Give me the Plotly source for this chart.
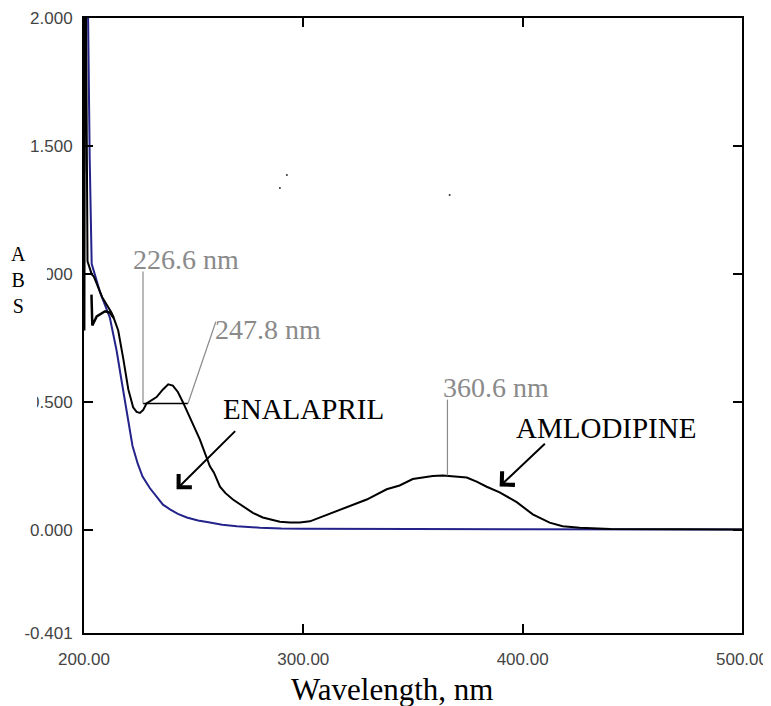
import plotly.graph_objects as go

# ---- data ----
blue_x = [200.1, 200.4, 201.8, 202.2, 202.6, 203.5, 207.3, 211.8, 214.9, 217.2, 219.5, 220.9,
          222.1, 224.5, 226.7, 230.0, 233.1, 236.0, 239.2, 242.8, 246.9, 252.0, 257.4, 263.0,
          269.7, 275.0, 280.2, 290.0, 300.0, 350.0, 400.0, 450.0, 500.0]
blue_y = [1.4, 2.05, 2.05, 1.73, 1.45, 1.04, 0.93, 0.83, 0.70, 0.58, 0.47, 0.40,
          0.33, 0.26, 0.21, 0.165, 0.13, 0.10, 0.082, 0.064, 0.05, 0.038, 0.03, 0.022,
          0.016, 0.012, 0.01, 0.007, 0.006, 0.005, 0.004, 0.003, 0.003]

black_x = [200.2, 200.4, 200.9, 201.6, 203.5, 204.5, 208.3, 212.5, 213.5, 215.6, 217.9, 220.2,
           222.4, 224.0, 225.5, 227.0, 228.5, 233.1, 236.0, 238.4, 240.5, 242.8, 245.1, 248.3,
           250.6, 252.8, 257.4, 259.2, 262.0, 264.5, 267.9, 274.3, 277.0, 281.5, 284.7, 289.3,
           294.0, 298.4, 303.0, 307.5, 313.0, 319.8, 328.9, 338.0, 343.9, 349.9, 353.1, 359.0,
           363.6, 369.9, 374.5, 379.0, 383.6, 389.5, 397.3, 404.6, 412.3, 418.2, 426.0, 440.0,
           470.0, 500.0]
black_y = [0.78, 2.05, 2.05, 1.05, 1.0, 0.99, 0.91, 0.85, 0.83, 0.78, 0.67, 0.55,
           0.48, 0.462, 0.458, 0.47, 0.495, 0.52, 0.55, 0.57, 0.565, 0.54, 0.50, 0.44,
           0.39, 0.355, 0.25, 0.226, 0.17, 0.145, 0.12, 0.082, 0.068, 0.05, 0.043, 0.033,
           0.03, 0.03, 0.035, 0.05, 0.068, 0.09, 0.12, 0.16, 0.175, 0.20, 0.205, 0.212,
           0.214, 0.21, 0.206, 0.19, 0.17, 0.148, 0.11, 0.062, 0.03, 0.016, 0.01, 0.005,
           0.003, 0.003]

hump_x = [203.4, 203.8, 205.8, 209.6, 211.8, 213.5]
hump_y = [0.92, 0.80, 0.835, 0.855, 0.85, 0.83]

stray_x = [292.5, 289.3, 366.7]
stray_y = [1.387, 1.336, 1.309]

x_ticks = [200, 300, 400, 500]
x_tick_text = ["200.00", "300.00", "400.00", "500.00"]
y_ticks = [-0.401, 0.0, 0.5, 1.0, 1.5, 2.0]
y_tick_text = ["-0.401", "0.000", "0.500", "1.000", "1.500", "2.000"]

peak_labels = ["226.6 nm", "247.8 nm", "360.6 nm"]
peak_point_x = [226.9, 247.4, 365.7]
peak_point_y = [0.495, 0.495, 0.214]
peak_line_end_x = [226.9, 260.1, 365.7]
peak_line_end_y = [1.01, 0.814, 0.51]
peak_text_x = [246.5, 283.8, 387.7]
peak_text_y = [1.056, 0.783, 0.557]

names = ["ENALAPRIL", "AMLODIPINE"]
name_text_x = [300.2, 437.8]
name_text_y = [0.475, 0.401]
arrow_tail_x = [269.6, 410.8]
arrow_tail_y = [0.393, 0.343]
arrow_tip_x = [242.2, 389.5]
arrow_tip_y = [0.16, 0.171]

x_title = "Wavelength, nm"
y_title = "A<br>B<br>S"

BLUE = "#23238a"
GRAY = "#8a8a8a"
SERIF = "Liberation Serif, Times New Roman, serif"
SANS = "Liberation Sans, Arial, sans-serif"

# page offset (body margin) and plot area in page pixels
OFF = 8
FW, FH = 771 - OFF, 706 - OFF
L, R, T, B = 84, 742, 18, 633
W, H = R - L, B - T

def px2paper_x(px):
    return (px - L) / W
def px2paper_y(py):
    return (B - py) / H

fig = go.Figure()
fig.add_trace(go.Scatter(x=blue_x, y=blue_y, mode="lines",
                         line=dict(color=BLUE, width=2), showlegend=False))
fig.add_trace(go.Scatter(x=black_x, y=black_y, mode="lines",
                         line=dict(color="black", width=2), showlegend=False))
fig.add_trace(go.Scatter(x=hump_x, y=hump_y, mode="lines",
                         line=dict(color="black", width=2.5), showlegend=False))
fig.add_trace(go.Scatter(x=stray_x, y=stray_y, mode="markers",
                         marker=dict(color="#333", size=2), showlegend=False))

shapes = []
shapes.append(dict(type="line", xref="x", yref="y",
                   x0=peak_point_x[0], y0=peak_point_y[0],
                   x1=peak_point_x[1], y1=peak_point_y[1],
                   line=dict(color="black", width=1.5)))
for i in range(3):
    shapes.append(dict(type="line", xref="x", yref="y",
                       x0=peak_point_x[i], y0=peak_point_y[i],
                       x1=peak_line_end_x[i], y1=peak_line_end_y[i],
                       line=dict(color=GRAY, width=1.2)))

# white patches that partly hide two tick labels (as in the reference)
shapes.append(dict(type="rect", xref="paper", yref="paper", layer="above",
                   x0=px2paper_x(OFF), x1=px2paper_x(47), y0=px2paper_y(300), y1=px2paper_y(240),
                   fillcolor="white", line=dict(width=0)))
shapes.append(dict(type="rect", xref="paper", yref="paper", layer="above",
                   x0=px2paper_x(OFF), x1=px2paper_x(37), y0=px2paper_y(415), y1=px2paper_y(390),
                   fillcolor="white", line=dict(width=0)))

annotations = []
for i in range(3):
    annotations.append(dict(x=peak_text_x[i], y=peak_text_y[i], xref="x", yref="y",
                            xanchor="center", yanchor="middle",
                            text=peak_labels[i], showarrow=False,
                            font=dict(family=SERIF, size=28, color=GRAY)))
for i in range(2):
    annotations.append(dict(x=name_text_x[i], y=name_text_y[i], xref="x", yref="y",
                            xanchor="center", yanchor="middle",
                            text=names[i], showarrow=False,
                            font=dict(family=SERIF, size=29, color="black")))
    annotations.append(dict(x=arrow_tip_x[i], y=arrow_tip_y[i], xref="x", yref="y",
                            ax=arrow_tail_x[i], ay=arrow_tail_y[i], axref="x", ayref="y",
                            text="", showarrow=True, arrowhead=4, arrowsize=1.8,
                            arrowwidth=2, arrowcolor="black"))
annotations.append(dict(x=px2paper_x(18), y=px2paper_y(280), xref="paper", yref="paper",
                        xanchor="center", yanchor="middle",
                        text=y_title, showarrow=False, align="center",
                        font=dict(family=SERIF, size=20, color="black")))
annotations.append(dict(x=px2paper_x(392), y=px2paper_y(689), xref="paper", yref="paper",
                        xanchor="center", yanchor="middle",
                        text=x_title, showarrow=False,
                        font=dict(family=SERIF, size=31, color="black")))

fig.update_layout(
    width=FW, height=FH,
    margin=dict(l=L - OFF, r=FW + OFF - R, t=T - OFF, b=FH + OFF - B),
    paper_bgcolor="white", plot_bgcolor="white",
    shapes=shapes, annotations=annotations,
    xaxis=dict(range=[200, 500], tickvals=x_ticks, ticktext=x_tick_text, automargin=False,
               ticks="inside", ticklen=9, tickwidth=2, tickcolor="black",
               showline=True, linecolor="black", linewidth=2, mirror="ticks",
               showgrid=False, zeroline=False, ticklabelstandoff=10,
               tickfont=dict(family=SANS, size=17, color="#444")),
    yaxis=dict(range=[-0.401, 2.0], tickvals=y_ticks, ticktext=y_tick_text, automargin=False,
               ticks="inside", ticklen=9, tickwidth=2, tickcolor="black",
               showline=True, linecolor="black", linewidth=2, mirror="ticks",
               showgrid=False, zeroline=False, ticklabelstandoff=6,
               tickfont=dict(family=SANS, size=17, color="#444")),
)

fig.write_html("out.html")
